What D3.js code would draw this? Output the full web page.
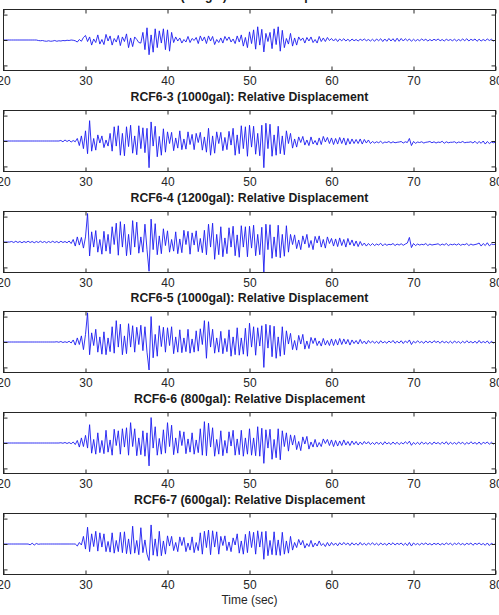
<!DOCTYPE html>
<html>
<head>
<meta charset="utf-8">
<script src="https://cdn.jsdelivr.net/npm/d3@7"></script>
<style>
  body { margin: 0; background: #fff; }
  svg { display: block; font-family: "Liberation Sans", Arial, sans-serif; }
</style>
</head>
<body>
<svg id="chart" width="499" height="615"></svg>
<script>
// titulos de cada panel
const titles = [
  'RCF6-2 (600gal): Relative Displacement',
  'RCF6-3 (1000gal): Relative Displacement',
  'RCF6-4 (1200gal): Relative Displacement',
  'RCF6-5 (1000gal): Relative Displacement',
  'RCF6-6 (800gal): Relative Displacement',
  'RCF6-7 (600gal): Relative Displacement'
];
const xTicks = [20, 30, 40, 50, 60, 70, 80];
const yTicks = [-100, 0, 100];
const xLabel = 'Time (sec)';

// muestras cada 0.25 s desde t = 20 s (desplazamiento relativo, 100 = marca del eje)
const tStart = 20;
const dt = 0.25;

const rcf62 = [
  0,0,0,0,0,0,0,0,0,0,0,0,0,0,0,0,0,-2,-3,-2,
  -4,-5,-3,-5,-4,-2,-5,-3,-4,-2,-3,-1,-2,0,-1,-3,-8,2,-5,10,
  18,-6,12,-20,4,-10,20,-16,2,-18,22,-4,16,-20,6,-8,18,-22,12,-6,
  24,-30,8,-26,12,2,-10,-12,30,-38,48,-58,20,-48,44,-30,36,-12,44,-38,
  40,-44,30,-10,12,-4,8,-12,2,-8,14,-10,6,-2,10,-14,16,-4,12,-14,
  16,-4,14,-18,2,-10,8,-12,14,-2,12,-8,4,-14,16,-8,20,-24,10,-30,
  32,-14,40,-36,52,-20,42,-47,26,-6,30,-34,44,-18,52,-44,38,-30,6,-16,
  26,-24,8,-20,12,-2,8,-12,10,-4,12,-10,2,-12,14,-6,8,-6,10,-2,
  6,-4,5,-6,4,-3,5,-4,3,-5,4,-3,2,-4,3,-2,4,-3,2,-4,
  3,-5,4,-3,5,-6,4,-5,6,-4,5,-6,7,-5,6,-4,5,-3,4,-5,
  3,-4,2,-3,4,-2,3,-4,2,-3,3,-2,4,-3,2,-4,3,-2,2,-3,
  3,-4,2,-3,4,-3,5,-4,3,-2,4,-5,3,-4,2,-3,4,-2,3,-4,0
];

const rcf63 = [
  0,0,0,0,0,0,0,0,0,0,0,0,0,0,0,0,0,0,0,0,
  0,0,0,0,0,0,0,0,2,-3,4,-2,3,-4,2,-3,10,-18,20,-30,
  40,-50,80,-40,10,-36,24,-8,20,-26,4,-20,30,-40,56,-20,60,-56,30,-58,
  56,-22,62,-48,20,-54,60,-30,52,-46,50,-105,75,-20,58,-62,18,-56,48,-44,
  36,-10,34,-38,12,-28,40,-34,8,-32,36,-14,26,-34,30,-6,34,-36,16,-44,
  50,-56,20,-48,36,-10,34,-38,14,-34,38,-16,50,-56,24,-50,60,-30,56,-60,
  62,-24,58,-52,30,-58,62,-105,70,-30,66,-60,24,-56,58,-50,20,-54,40,-10,
  30,-28,8,-24,16,-6,18,-16,4,-18,16,-12,2,-16,12,-14,18,-4,14,-10,
  12,-14,10,-12,14,-10,12,-16,10,-12,8,-10,6,-10,8,-12,6,-8,4,-10,
  -2,-8,-3,-7,-1,-9,-4,-6,-2,-8,-3,-7,-5,-4,-2,-8,-3,-6,10,-18,
  -2,-9,-4,-6,-3,-8,-5,-4,-2,-7,-3,-8,-4,-6,-1,-9,-3,-7,-5,-5,
  -3,-8,-4,-6,-2,-7,-5,-5,-3,-8,-1,-10,-2,-9,0,-12,-2,-10,-4,-7,-5
];

const rcf64 = [
  0,0,0,0,2,-2,3,-2,2,-3,2,-2,3,-2,2,-3,2,-2,3,-2,
  2,-3,2,-2,3,-2,2,-3,3,-2,2,-3,4,-6,10,-16,20,-12,18,-24,
  20,112,-55,40,-20,45,-40,10,-48,42,-36,30,-46,60,-10,74,-52,80,-20,70,
  -54,30,-50,84,-20,78,-44,20,-40,70,-30,-115,90,-30,72,-50,24,-46,52,-14,
  44,-40,10,-36,40,-46,12,-42,46,-10,42,-48,36,-12,44,-38,14,-42,46,-50,
  70,-20,74,-68,30,-50,60,-58,16,-46,56,-20,62,-54,28,-60,64,-20,60,-58,
  62,-24,66,-54,30,-50,58,-118,70,-30,68,-64,20,-58,66,-62,30,-56,64,-40,
  30,-10,28,-26,8,-30,24,-8,30,-22,6,-30,22,-4,24,-20,10,-24,20,-6,
  14,-16,12,-18,16,-14,10,-20,14,-12,8,-16,4,-18,2,-14,-4,-16,-6,-14,
  -6,-14,-8,-12,-5,-15,-7,-13,-9,-11,-6,-14,-8,-12,-7,-13,-8,-4,18,-22,
  -6,-14,-8,-12,-9,-11,-6,-14,-8,-12,-10,-9,-7,-13,-8,-12,-6,-14,-9,-11,
  -8,-12,-7,-13,-9,-11,-6,-14,-8,-12,-10,-8,-4,-16,-6,-14,-3,-15,-8,-10,-9
];

const rcf65 = [
  0,0,0,0,0,0,0,0,0,0,0,0,0,0,0,0,0,0,0,0,
  0,0,0,0,0,0,1,-1,2,-2,1,-2,3,-4,8,-12,16,-10,24,-30,
  30,115,-50,36,-14,50,-40,20,-48,40,-50,16,-38,60,-44,84,-20,70,-50,24,
  -46,72,-20,64,-40,58,-10,66,-34,60,-40,-110,100,-62,30,-56,64,-18,58,-40,
  56,-14,60,-46,20,-40,48,-42,16,-38,50,-44,12,-40,44,-36,52,-10,84,-64,
  80,-20,50,-44,16,-40,42,-46,14,-38,48,-56,20,-50,56,-52,16,-48,54,-56,
  74,-20,60,-52,56,-16,64,-100,70,-24,66,-58,62,-64,20,-56,60,-50,44,-8,
  34,-30,6,-32,26,-8,30,-28,4,-26,18,-6,16,-14,4,-16,14,-12,6,-14,
  12,-14,10,-12,14,-10,12,-8,10,-12,8,-6,6,-8,10,-6,4,-8,6,-4,
  4,-5,3,-6,5,-4,2,-5,4,-3,6,-5,3,-4,5,-6,4,-3,8,-10,
  3,-4,5,-3,2,-5,4,-3,3,-4,5,-2,3,-5,4,-3,2,-4,3,-5,
  4,-3,2,-5,3,-4,5,-3,2,-4,3,-5,6,-4,2,-3,4,-6,3,-4,0
];

const rcf66 = [
  0,0,0,0,0,0,0,0,0,0,0,0,0,0,0,0,0,0,0,0,
  0,0,0,0,0,0,0,0,1,-1,2,-2,2,-3,4,-6,10,-16,20,-14,
  30,-20,72,-40,14,-44,40,-38,10,-42,50,-36,12,-48,54,-10,48,-44,56,-16,
  60,-48,80,-14,56,-50,20,-46,48,-52,40,-90,100,-20,64,-48,18,-44,52,-40,
  80,-14,70,-46,20,-40,48,-10,44,-42,16,-36,40,-44,12,-38,56,-48,84,-50,
  78,-16,60,-52,14,-44,48,-50,10,-40,44,-12,50,-48,16,-46,50,-52,20,-44,
  56,-48,20,-50,64,-52,58,-80,52,-20,54,-64,14,-58,56,-66,48,-14,40,-32,
  32,-8,30,-26,6,-30,24,-4,26,-24,4,-16,14,-16,2,-14,16,-2,14,-10,
  12,-14,10,-12,8,-10,12,-8,6,-10,8,-6,6,-8,4,-6,6,-4,5,-6,
  2,-6,4,-5,3,-7,5,-4,2,-6,4,-5,3,-6,2,-4,5,-3,7,-9,
  2,-5,3,-6,4,-4,2,-5,3,-6,4,-3,2,-5,3,-4,5,-6,3,-4,
  2,-5,4,-3,3,-6,2,-4,5,-3,2,-5,4,-6,3,-2,4,-5,3,-4,0
];

const rcf67 = [
  0,0,0,0,0,0,0,0,0,0,0,0,0,-3,3,-4,2,-1,0,0,
  0,0,0,0,0,0,0,0,0,0,0,0,0,0,0,0,-8,6,-4,30,
  -20,66,-30,40,-10,50,-28,44,-12,40,-30,10,-32,44,-36,14,-30,46,-34,48,
  -38,20,-40,70,-36,14,-42,64,-34,16,-40,-65,75,-44,20,-48,50,-46,12,-40,
  32,-8,30,-26,6,-30,28,-6,26,-30,4,-24,28,-34,6,-26,44,-40,50,-14,
  55,-42,52,-12,48,-40,30,-6,32,-26,8,-30,24,-4,40,-36,12,-40,38,-34,
  50,-14,46,-40,52,-12,48,-60,50,-46,14,-42,48,-44,16,-45,46,-40,12,-36,
  30,-24,6,-14,18,-4,14,-16,2,-10,14,-12,4,-8,12,-6,2,-10,6,-8,
  6,-5,4,-7,5,-4,6,-3,4,-6,5,-4,3,-5,6,-4,3,-5,4,-3,
  5,-4,3,-5,4,-3,2,-5,4,-3,5,-4,3,-2,4,-5,3,-6,6,-8,
  4,-3,2,-4,3,-2,4,-3,2,-4,3,-2,3,-4,2,-3,4,-2,3,-4,
  3,-2,4,-3,2,-4,3,-2,4,-5,3,-2,4,-3,2,-5,4,-6,3,-2,0
];

const series = [rcf62, rcf63, rcf64, rcf65, rcf66, rcf67];

const svg = d3.select('#chart');
const W = 499;
const left = 3.5, right = 495.5;
const firstTop = 9, step = 100.8, ph = 61;

const x = d3.scaleLinear().domain([20, 80]).range([left, right]);
const y = d3.scaleLinear().domain([-120, 120]).range([ph, 0]);

const line = d3.line()
  .x((d, i) => x(tStart + i * dt))
  .y(d => y(d));

svg.append('defs').append('clipPath').attr('id', 'clip')
  .append('rect').attr('x', left).attr('y', 0).attr('width', right - left).attr('height', ph);

series.forEach((values, k) => {
  const top = Math.round(firstTop + k * step) + 0.5;
  const g = svg.append('g').attr('transform', `translate(0,${top})`);

  // la señal
  g.append('path')
    .datum(values)
    .attr('clip-path', 'url(#clip)')
    .attr('fill', 'none')
    .attr('stroke', '#1c1cf0')
    .attr('stroke-width', 0.9)
    .attr('stroke-linejoin', 'round')
    .attr('d', line);

  // ejes con marcas hacia dentro
  const bottom = g.append('g').attr('transform', `translate(0,${ph})`)
    .call(d3.axisBottom(x).tickValues(xTicks).tickSize(-4).tickPadding(5.5).tickFormat(d3.format('d')));
  g.append('g').call(d3.axisTop(x).tickValues(xTicks).tickSize(-4).tickFormat(''));
  g.append('g').attr('transform', `translate(${left},0)`)
    .call(d3.axisLeft(y).tickValues(yTicks).tickSize(-4).tickFormat(''));
  g.append('g').attr('transform', `translate(${right},0)`)
    .call(d3.axisRight(y).tickValues(yTicks).tickSize(-4).tickFormat(''));

  g.selectAll('.domain').remove();
  g.selectAll('.tick line').attr('stroke', '#262626');
  bottom.selectAll('text')
    .attr('font-size', '12px')
    .attr('font-family', '"Liberation Sans", Arial, sans-serif')
    .attr('fill', '#262626');

  // marco
  g.append('rect')
    .attr('x', left).attr('y', 0)
    .attr('width', right - left).attr('height', ph)
    .attr('fill', 'none')
    .attr('stroke', '#262626')
    .attr('stroke-width', 1);

  // titulo
  g.append('text')
    .attr('x', W / 2)
    .attr('y', -9.5)
    .attr('text-anchor', 'middle')
    .attr('font-size', '12.3px')
    .attr('font-weight', 'bold')
    .attr('fill', '#1a1a1a')
    .text(titles[k]);

  if (k === series.length - 1) {
    g.append('text')
      .attr('x', W / 2)
      .attr('y', ph + 29)
      .attr('text-anchor', 'middle')
      .attr('font-size', '12px')
      .attr('fill', '#262626')
      .text(xLabel);
  }
});
</script>
</body>
</html>
